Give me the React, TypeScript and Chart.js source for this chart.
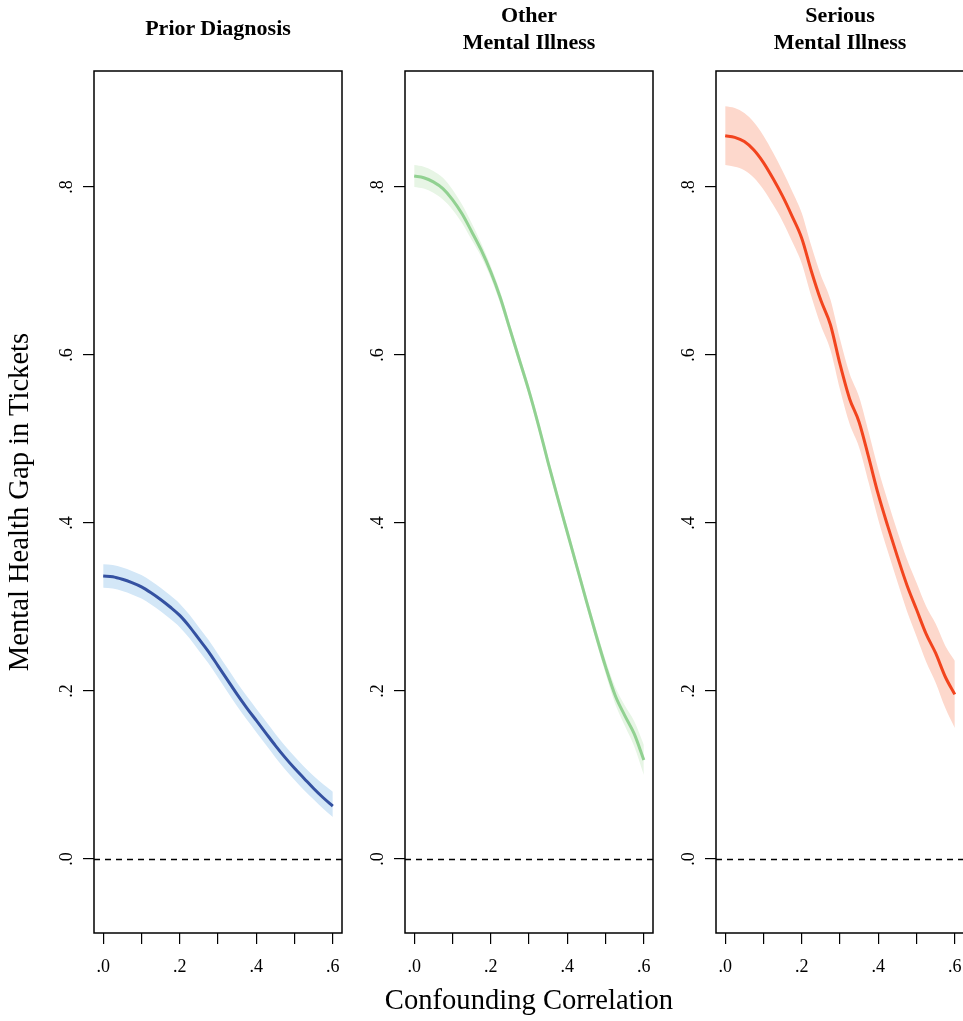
import React, { useEffect, useRef } from "react";
import { Chart, registerables } from "chart.js";

Chart.register(...registerables);

// ---------- data ----------
const X_GRID = [
  0, 0.025, 0.05, 0.075, 0.1, 0.125, 0.15, 0.175, 0.2, 0.225, 0.25, 0.275, 0.3,
  0.325, 0.35, 0.375, 0.4, 0.425, 0.45, 0.475, 0.5, 0.525, 0.55, 0.575, 0.6,
];

const PRIOR_EST = [
  0.337, 0.336, 0.333, 0.329, 0.324, 0.317, 0.309, 0.3, 0.29, 0.277, 0.262, 0.247, 0.23,
  0.213, 0.196, 0.18, 0.165, 0.15, 0.135, 0.121, 0.108, 0.096, 0.084, 0.073, 0.063,
];
const PRIOR_HI = [
  0.351, 0.35, 0.347, 0.343, 0.338, 0.331, 0.323, 0.314, 0.304, 0.291, 0.276, 0.261, 0.244,
  0.227, 0.21, 0.194, 0.179, 0.164, 0.149, 0.135, 0.122, 0.11, 0.099, 0.089, 0.08,
];
const PRIOR_LO = [
  0.323, 0.322, 0.319, 0.315, 0.31, 0.303, 0.295, 0.286, 0.276, 0.263, 0.248, 0.233, 0.216,
  0.199, 0.182, 0.166, 0.151, 0.136, 0.121, 0.107, 0.094, 0.082, 0.071, 0.06, 0.05,
];

const OTHER_EST = [
  0.813, 0.811, 0.806, 0.798, 0.785, 0.768, 0.747, 0.725, 0.699, 0.668, 0.631, 0.594, 0.557,
  0.516, 0.472, 0.43, 0.389, 0.348, 0.307, 0.267, 0.229, 0.195, 0.171, 0.149, 0.118,
];
const OTHER_HI = [
  0.826, 0.824, 0.819, 0.811, 0.797, 0.779, 0.757, 0.733, 0.706, 0.675, 0.637, 0.6, 0.563,
  0.522, 0.478, 0.436, 0.395, 0.354, 0.313, 0.274, 0.237, 0.205, 0.183, 0.164, 0.136,
];
const OTHER_LO = [
  0.8, 0.798, 0.793, 0.785, 0.773, 0.757, 0.737, 0.717, 0.692, 0.661, 0.625, 0.588, 0.551,
  0.51, 0.466, 0.424, 0.383, 0.342, 0.301, 0.26, 0.221, 0.185, 0.159, 0.134, 0.1,
];

const SERIOUS_EST = [
  0.861, 0.859, 0.854, 0.844, 0.829, 0.81, 0.789, 0.765, 0.739, 0.7, 0.665, 0.636, 0.589,
  0.548, 0.52, 0.478, 0.434, 0.396, 0.36, 0.326, 0.297, 0.268, 0.245, 0.217, 0.196,
];
const SERIOUS_HI = [
  0.896, 0.894, 0.888, 0.877, 0.861, 0.841, 0.819, 0.795, 0.769, 0.73, 0.695, 0.666, 0.619,
  0.578, 0.55, 0.508, 0.464, 0.426, 0.39, 0.357, 0.329, 0.301, 0.28, 0.254, 0.236,
];
const SERIOUS_LO = [
  0.826, 0.824, 0.82, 0.811, 0.797, 0.779, 0.759, 0.735, 0.709, 0.67, 0.635, 0.606, 0.559,
  0.518, 0.49, 0.448, 0.404, 0.366, 0.33, 0.295, 0.265, 0.235, 0.21, 0.18, 0.156,
];

const PANEL_TITLES = [["Prior Diagnosis"], ["Other", "Mental Illness"], ["Serious", "Mental Illness"]];

const X_TICKS = [0, 0.1, 0.2, 0.3, 0.4, 0.5, 0.6];
const X_TICK_LABELS = [".0", "", ".2", "", ".4", "", ".6"];
const Y_TICKS = [0, 0.2, 0.4, 0.6, 0.8];
const Y_TICK_LABELS = [".0", ".2", ".4", ".6", ".8"];
const REF_LINE = 0;

const X_LIMITS = [-0.024, 0.624];
const Y_LIMITS = [-0.088, 0.938];

const Y_TITLE = "Mental Health Gap in Tickets";
const X_TITLE = "Confounding Correlation";

const SERIF = "'Liberation Serif', 'Times New Roman', Times, serif";

const PANELS = [
  { est: PRIOR_EST, hi: PRIOR_HI, lo: PRIOR_LO, line: "#3451a1", band: "#d3e7f7" },
  { est: OTHER_EST, hi: OTHER_HI, lo: OTHER_LO, line: "#91d191", band: "#e7f5e5" },
  { est: SERIOUS_EST, hi: SERIOUS_HI, lo: SERIOUS_LO, line: "#f2441e", band: "#fdd8cc" },
];

// ---------- layout constants ----------
const PANEL_STEP = 311;
const AXIS_W = 94;
const PLOT_W = 248;
const PAD_R = 30;
const CANVAS_W = AXIS_W + PLOT_W + PAD_R;
const CANVAS_H = 1021;
const PLOT_TOP = 71;
const PLOT_BOTTOM = 933;

const pts = (ys: number[]) => X_GRID.map((x, i) => ({ x, y: ys[i] }));

const framePlugin = {
  id: "frame",
  beforeDatasetsDraw(chart: any) {
    const { ctx, chartArea, scales } = chart;
    const y0 = Math.round(scales.y.getPixelForValue(REF_LINE)) + 0.5;
    ctx.save();
    ctx.strokeStyle = "#000";
    ctx.lineWidth = 1.3;
    ctx.setLineDash([6, 5]);
    ctx.beginPath();
    ctx.moveTo(chartArea.left, y0);
    ctx.lineTo(chartArea.right, y0);
    ctx.stroke();
    ctx.restore();
  },
  afterDraw(chart: any) {
    const { ctx, chartArea } = chart;
    ctx.save();
    ctx.strokeStyle = "#000";
    ctx.lineWidth = 1.5;
    ctx.strokeRect(chartArea.left, chartArea.top, chartArea.right - chartArea.left, chartArea.bottom - chartArea.top);
    ctx.restore();
  },
};

function Panel({ idx }: { idx: number }) {
  const ref = useRef<HTMLCanvasElement | null>(null);
  useEffect(() => {
    const p = PANELS[idx];
    const chart = new Chart(ref.current as HTMLCanvasElement, {
      type: "line",
      data: {
        datasets: [
          {
            data: pts(p.est),
            fill: false,
            borderColor: p.line,
            borderWidth: 3,
            pointRadius: 0,
            cubicInterpolationMode: "monotone",
            order: 0,
          },
          {
            data: pts(p.hi),
            fill: "+1",
            backgroundColor: p.band,
            borderColor: "transparent",
            borderWidth: 0,
            pointRadius: 0,
            cubicInterpolationMode: "monotone",
            order: 1,
          },
          {
            data: pts(p.lo),
            fill: false,
            borderColor: "transparent",
            borderWidth: 0,
            pointRadius: 0,
            cubicInterpolationMode: "monotone",
            order: 2,
          },
        ],
      },
      options: {
        animation: false,
        responsive: false,
        devicePixelRatio: 1,
        layout: { padding: { left: 0, right: PAD_R, top: PLOT_TOP, bottom: 0 } },
        plugins: { legend: { display: false }, tooltip: { enabled: false }, title: { display: false } },
        events: [],
        scales: {
          x: {
            type: "linear",
            min: X_LIMITS[0],
            max: X_LIMITS[1],
            afterBuildTicks: (s: any) => {
              s.ticks = X_TICKS.map((v) => ({ value: v }));
            },
            afterFit: (s: any) => {
              s.height = CANVAS_H - PLOT_BOTTOM;
            },
            ticks: {
              autoSkip: false,
              maxRotation: 0,
              minRotation: 0,
              padding: 12,
              color: "#000",
              font: { family: SERIF, size: 18 },
              callback: (_v: any, i: number) => X_TICK_LABELS[i],
            },
            grid: { drawOnChartArea: false, drawTicks: true, tickLength: 11, color: "#000", lineWidth: 1.2 },
            border: { display: false },
          },
          y: {
            type: "linear",
            min: Y_LIMITS[0],
            max: Y_LIMITS[1],
            afterBuildTicks: (s: any) => {
              s.ticks = Y_TICKS.map((v) => ({ value: v }));
            },
            afterFit: (s: any) => {
              s.width = AXIS_W;
            },
            ticks: {
              autoSkip: false,
              minRotation: 90,
              maxRotation: 90,
              crossAlign: "center",
              padding: 9,
              color: "#000",
              font: { family: SERIF, size: 18 },
              callback: (_v: any, i: number) => Y_TICK_LABELS[i],
            },
            grid: { drawOnChartArea: false, drawTicks: true, tickLength: 11, color: "#000", lineWidth: 1.2 },
            border: { display: false },
          },
        },
      } as any,
      plugins: [framePlugin],
    } as any);
    return () => chart.destroy();
  }, [idx]);
  return (
    <canvas
      ref={ref}
      width={CANVAS_W}
      height={CANVAS_H}
      style={{ position: "absolute", left: idx * PANEL_STEP, top: 0, width: CANVAS_W, height: CANVAS_H }}
    />
  );
}

export default function App() {
  return (
    <div
      style={{
        position: "fixed",
        left: 0,
        top: 0,
        width: 963,
        height: 1021,
        overflow: "hidden",
        background: "#fff",
        fontFamily: SERIF,
        color: "#000",
      }}
    >
      {PANELS.map((_, i) => (
        <Panel key={i} idx={i} />
      ))}
      {PANEL_TITLES.map((lines, i) => {
        const cx = i * PANEL_STEP + AXIS_W + PLOT_W / 2;
        return (
          <div
            key={"t" + i}
            style={{
              position: "absolute",
              left: cx - 150,
              width: 300,
              top: lines.length === 1 ? 15 : 2,
              textAlign: "center",
              fontWeight: "bold",
              fontSize: 22,
              lineHeight: "26.7px",
              whiteSpace: "nowrap",
            }}
          >
            {lines.map((l, j) => (
              <div key={j}>{l}</div>
            ))}
          </div>
        );
      })}
      <div
        style={{
          position: "absolute",
          left: 18.5 - 300,
          top: 502 - 14,
          width: 600,
          height: 28,
          fontSize: 28.6,
          lineHeight: "28px",
          textAlign: "center",
          transform: "rotate(-90deg)",
          transformOrigin: "50% 50%",
          whiteSpace: "nowrap",
        }}
      >
        {Y_TITLE}
      </div>
      <div
        style={{
          position: "absolute",
          left: 529 - 300,
          top: 986,
          width: 600,
          fontSize: 28.6,
          lineHeight: "28px",
          textAlign: "center",
          whiteSpace: "nowrap",
        }}
      >
        {X_TITLE}
      </div>
    </div>
  );
}
